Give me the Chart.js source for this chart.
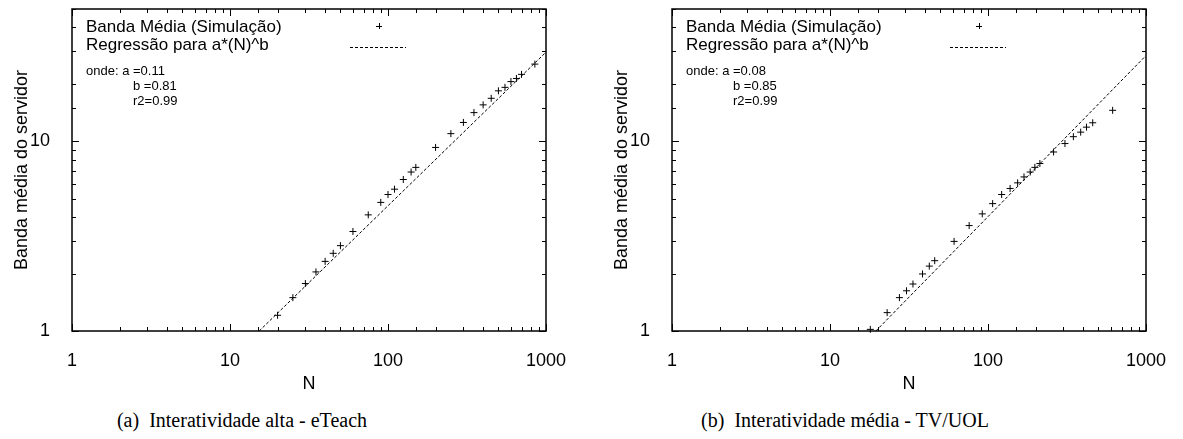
<!DOCTYPE html>
<html>
<head>
<meta charset="utf-8">
<script src="https://cdn.jsdelivr.net/npm/chart.js@4"></script>
<style>
    html, body { margin: 0; padding: 0; background: #fff; }
    body { width: 1183px; height: 439px; position: relative; overflow: hidden; }
    .chart_box { position: absolute; top: 0; }
    .caption { position: absolute; top: 408px; width: 400px; text-align: center; font-family: "Liberation Serif", "Times New Roman", serif; font-size: 20px; line-height: 24px; color: #000; white-space: pre; }
</style>
</head>
<body>
<div class="chart_box" style="left:0px;width:591px;height:395px"><canvas id="chart_a"></canvas></div>
<div class="chart_box" style="left:600px;width:583px;height:395px"><canvas id="chart_b"></canvas></div>
<div class="caption" style="left:42px">(a)  Interatividade alta - eTeach</div>
<div class="caption" style="left:645px">(b)  Interatividade média - TV/UOL</div>
<script>
// eTeach (interatividade alta)
var usersA = [20, 25, 30, 35, 40, 45, 50, 60, 75, 90, 100, 110, 125, 140, 150, 200, 250, 300, 350, 400, 450, 500, 550, 600, 650, 700, 850];
var bandA = [1.21, 1.5, 1.78, 2.05, 2.33, 2.57, 2.82, 3.35, 4.1, 4.77, 5.25, 5.6, 6.3, 6.9, 7.3, 9.3, 11, 12.6, 14.2, 15.6, 16.9, 18.5, 19.3, 20.7, 21.5, 22.6, 25.6];
var fitA = [{ x: 15.3, y: 1 }, { x: 1000, y: 29.6 }];
var coefA = ["onde: a =0.11", "b =0.81", "r2=0.99"];

// TV/UOL (interatividade media)
var usersB = [18, 23, 27.5, 30.5, 33.5, 38.5, 42.5, 46, 61, 76, 92, 107, 122, 138, 154, 169, 185, 198, 213, 260, 307, 347, 386, 420, 460, 615];
var bandB = [1.02, 1.25, 1.5, 1.63, 1.77, 2.0, 2.2, 2.35, 2.97, 3.6, 4.15, 4.7, 5.25, 5.65, 6.05, 6.5, 6.9, 7.3, 7.65, 8.8, 9.75, 10.6, 11.2, 11.9, 12.55, 14.6];
var fitB = [{ x: 19.5, y: 1 }, { x: 1000, y: 28.4 }];
var coefB = ["onde: a =0.08", "b =0.85", "r2=0.99"];

var xRange = [1, 1000],
    yRange = [1, 50],
    xLabels = [1, 10, 100, 1000],
    yLabels = [1, 10],
    legendText = ["Banda Média (Simulação)", "Regressão para a*(N)^b"],
    yTitle = "Banda média do servidor",
    xTitle = "N";

var sans = "'Liberation Sans', Arial, sans-serif";

function toPoints(xs, ys) {
    return xs.map(function (x, i) { return { x: x, y: ys[i] }; });
}

function isDecade(v) {
    var l = Math.log10(v);
    return Math.abs(l - Math.round(l)) < 1e-9;
}

// gnuplot style frame, inward ticks on all four sides, and the key/labels
var framePlugin = {
    id: "gnuFrame",
    afterDraw(chart, args, opts) {
        var ctx = chart.ctx,
            a = chart.chartArea,
            xs = chart.scales.x,
            ys = chart.scales.y;
        ctx.save();
        ctx.strokeStyle = "#000";
        ctx.lineWidth = 1;
        ctx.beginPath();
        xs.ticks.forEach(function (t) {
            var px = Math.round(xs.getPixelForValue(t.value)) + 0.5,
                len = isDecade(t.value) ? 7 : 4;
            ctx.moveTo(px, a.bottom); ctx.lineTo(px, a.bottom - len);
            ctx.moveTo(px, a.top); ctx.lineTo(px, a.top + len);
        });
        ys.ticks.forEach(function (t) {
            var py = Math.round(ys.getPixelForValue(t.value)) + 0.5,
                len = isDecade(t.value) ? 7 : 4;
            ctx.moveTo(a.left, py); ctx.lineTo(a.left + len, py);
            ctx.moveTo(a.right, py); ctx.lineTo(a.right - len, py);
        });
        ctx.stroke();
        ctx.lineWidth = 1.5;
        ctx.strokeRect(a.left, a.top, a.right - a.left, a.bottom - a.top);

        // key
        ctx.fillStyle = "#000";
        ctx.textBaseline = "middle";
        ctx.textAlign = "left";
        ctx.font = "17px " + sans;
        ctx.fillText(legendText[0], a.left + 14, a.top + 18);
        ctx.fillText(legendText[1], a.left + 14, a.top + 36);
        ctx.lineWidth = 1;
        ctx.beginPath();
        ctx.moveTo(a.left + 304, a.top + 17.5); ctx.lineTo(a.left + 310, a.top + 17.5);
        ctx.moveTo(a.left + 307.5, a.top + 14); ctx.lineTo(a.left + 307.5, a.top + 20);
        ctx.stroke();
        ctx.setLineDash([3, 2]);
        ctx.beginPath();
        ctx.moveTo(a.left + 278, a.top + 38.5); ctx.lineTo(a.left + 334, a.top + 38.5);
        ctx.stroke();
        ctx.setLineDash([]);

        // coefficients
        ctx.font = "13px " + sans;
        ctx.fillText(opts.coef[0], a.left + 14, a.top + 62);
        ctx.fillText(opts.coef[1], a.left + 61, a.top + 77);
        ctx.fillText(opts.coef[2], a.left + 61, a.top + 92);
        ctx.restore();
    },
};

function makeChart(id, users, band, fit, coef, padRight) {
    var ctx = document.getElementById(id);
    return new Chart(ctx, {
        type: "scatter",
        data: {
            datasets: [
                { label: legendText[0], data: toPoints(users, band), pointStyle: "cross", pointRadius: 3.5, pointHoverRadius: 3.5, borderColor: "#000", backgroundColor: "#000", borderWidth: 1, showLine: false, clip: false },
                { label: legendText[1], data: fit, showLine: true, pointRadius: 0, borderColor: "#000", borderWidth: 1, borderDash: [3, 2], fill: false },
            ],
        },
        options: {
            responsive: true,
            maintainAspectRatio: false,
            animation: false,
            events: [],
            layout: { padding: { top: 9, right: padRight, bottom: 0, left: 0 } },
            scales: {
                x: {
                    type: "logarithmic",
                    min: xRange[0],
                    max: xRange[1],
                    grid: { display: false },
                    border: { display: false },
                    title: { display: true, text: xTitle, color: "#000", font: { family: sans, size: 18 }, padding: { top: 0, bottom: 0 } },
                    ticks: {
                        color: "#000",
                        font: { family: sans, size: 18 },
                        padding: 11,
                        autoSkip: false,
                        maxRotation: 0,
                        callback: function (v) { return xLabels.indexOf(v) >= 0 ? String(v) : ""; },
                    },
                    afterFit: function (s) { s.height = 64; s.paddingLeft = 0; s.paddingRight = 0; },
                },
                y: {
                    type: "logarithmic",
                    min: yRange[0],
                    max: yRange[1],
                    grid: { display: false },
                    border: { display: false },
                    title: { display: true, text: yTitle, color: "#000", font: { family: sans, size: 18 }, padding: { top: 11, bottom: 0 } },
                    ticks: {
                        color: "#000",
                        font: { family: sans, size: 18 },
                        padding: 14,
                        autoSkip: false,
                        callback: function (v) { return yLabels.indexOf(v) >= 0 ? String(v) : ""; },
                    },
                    afterFit: function (s) { s.width = 72; s.paddingTop = 0; s.paddingBottom = 0; },
                },
            },
            plugins: {
                legend: { display: false },
                tooltip: { enabled: false },
                gnuFrame: { coef: coef },
            },
        },
        plugins: [framePlugin],
    });
}

makeChart("chart_a", usersA, bandA, fitA, coefA, 45);
makeChart("chart_b", usersB, bandB, fitB, coefB, 37);
</script>
</body>
</html>
